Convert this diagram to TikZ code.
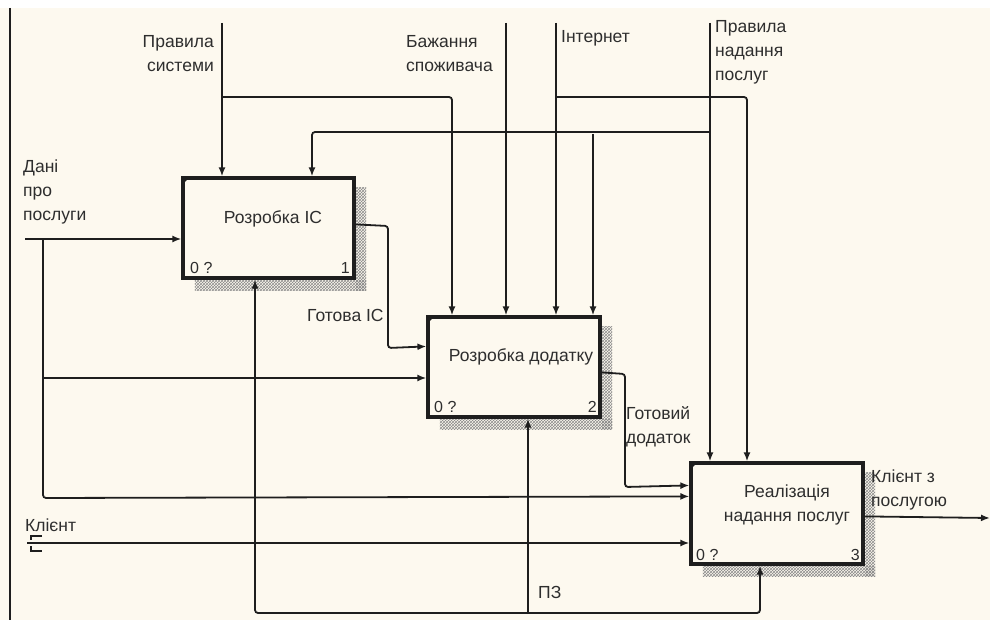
\documentclass[tikz,border=0pt]{standalone}
\usepackage{fontspec}
\setmainfont{Liberation Sans}
\usetikzlibrary{arrows.meta,patterns,calc}
\definecolor{cream}{HTML}{FDF9EF}
\definecolor{ink}{HTML}{1E1E1E}
\definecolor{txt}{HTML}{2E2E2E}
\begin{document}
\begin{tikzpicture}[x=1pt,y=-1pt,
  idefbox/.style={draw=ink, fill=cream, line width=3.2pt, rectangle, inner sep=0pt},
  conn/.style={draw=ink, line width=1.8pt, rounded corners=3pt},
  arr/.style={conn, -{Latex[length=9pt,width=7pt]}},
  lbl/.style={text=txt, font=\fontsize{17.5}{24}\selectfont, inner sep=0pt, align=left},
  num/.style={text=txt, font=\fontsize{16}{20}\selectfont, inner sep=0pt},
  hatch/.style={pattern=crosshatch, pattern color=gray!90},
  corner/.style={fill=ink},
]
\useasboundingbox (0,0) rectangle (990,620);
\fill[white] (0,0) rectangle (990,620);
\fill[cream] (0,8) rectangle (990,620);
\draw[ink, line width=1.8pt] (10,8) -- (10,620);

% boxes
\path (268.5,228) node[minimum width=171pt, minimum height=100pt, inner sep=0pt] (b1) {};
\path (514,367) node[minimum width=172pt, minimum height=100pt, inner sep=0pt] (b2) {};
\path (777,513.5) node[minimum width=172pt, minimum height=101pt, inner sep=0pt] (b3) {};
\foreach \b in {b1,b2,b3}{
  \fill[hatch] ($(\b.north east)+(2,10)$) rectangle ($(\b.south east)+(12,12)$);
  \fill[hatch] ($(\b.south west)+(12,2)$) rectangle ($(\b.south east)+(12,12)$);
}
\node[idefbox, minimum width=171pt, minimum height=100pt] (B1) at (b1) {};
\node[idefbox, minimum width=172pt, minimum height=100pt] (B2) at (b2) {};
\node[idefbox, minimum width=172pt, minimum height=101pt] (B3) at (b3) {};
\foreach \b in {B1,B2,B3}{
  \fill[corner] (\b.north west) -- ++(9,0) -- ++(-9,9) -- cycle;
}

% box texts
\node[lbl] (t1) at (273,219) {Розробка ІС};
\node[lbl] (t2) at (521,357) {Розробка додатку};
\node[lbl, align=center] (t3) at (787,505) {Реалізація\\надання послуг};
\node[num, anchor=west] (n1a) at (190,268) {0 ?};
\node[num, anchor=east] (n1b) at (350,268) {1};
\node[num, anchor=west] (n2a) at (434,407) {0 ?};
\node[num, anchor=east] (n2b) at (597,407) {2};
\node[num, anchor=west] (n3a) at (696,555) {0 ?};
\node[num, anchor=east] (n3b) at (860,555) {3};

% free ends and junctions
\coordinate (ps) at (222,23);
\coordinate (bz) at (506,23);
\coordinate (it) at (556,23);
\coordinate (pn) at (710,23);
\coordinate (d0) at (25,239);
\coordinate (kl) at (27,543);
\coordinate (pz) at (528,614);
\coordinate (out) at (990,518);
\coordinate (j1) at (222,97);
\coordinate (j2) at (556,97);
\coordinate (j3) at (710,132);
\coordinate (j4) at (593,134);
\coordinate (j5) at (43,239);
\coordinate (j6) at (43,378);
\coordinate (j7) at (528,613);

% controls
\draw[arr] (ps) -- (ps |- B1.north);
\draw[arr] (j1) -- (452,97) -- (452,0 |- B2.north);
\draw[arr] (bz) -- (bz |- B2.north);
\draw[arr] (it) -- (it |- B2.north);
\draw[arr] (j2) -- (747,97) -- (747,0 |- B3.north);
\draw[arr] (pn) -- (pn |- B3.north);
\draw[arr] (j3) -- (312,132) -- (312,0 |- B1.north);
\draw[arr] (j4) -- (j4 |- B2.north);

% inputs
\draw[arr] (d0) -- (d0 -| B1.west);
\draw[arr] (j5) -- (43,498) -- ($(B3.north west)+(0,35)$);
\draw[arr] (j6) -- (j6 -| B2.west);
\draw[arr] (kl) -- (kl -| B3.west);
\draw[ink, line width=1.4pt] (42,536) -- (31,536) -- (31,540);
\draw[ink, line width=1.4pt] (31,546) -- (31,551) -- (42,551);

% outputs
\draw[arr] ($(B1.north east)+(0,48)$) -- (388,226) -- (388,348) -- ($(B2.north west)+(0,31)$);
\draw[arr] ($(B2.north east)+(0,57)$) -- (625,374) -- (625,487) -- ($(B3.north west)+(0,24)$);
\draw[arr] ($(B3.north east)+(0,55)$) -- (out);

% mechanisms
\draw[arr] (pz) -- (pz |- B2.south);
\draw[arr] (j7) -- (255,613) -- (255,0 |- B1.south);
\draw[arr] (j7) -- (760,613) -- (760,0 |- B3.south);

% labels
\node[lbl, anchor=east, align=right] (l1) at (214,54) {Правила\\системи};
\node[lbl, anchor=west] (l2) at (406,54) {Бажання\\споживача};
\node[lbl, anchor=west] (l3) at (561,38) {Інтернет};
\node[lbl, anchor=west] (l4) at (715,52) {Правила\\надання\\послуг};
\node[lbl, anchor=west] (l5) at (23,192) {Дані\\про\\послуги};
\node[lbl, anchor=west] (l6) at (25,525) {Клієнт};
\node[lbl, anchor=west] (l7) at (307,315) {Готова ІС};
\node[lbl, anchor=west] (l8) at (626,427) {Готовий\\додаток};
\node[lbl, anchor=west] (l9) at (871,490) {Клієнт з\\послугою};
\node[lbl, anchor=west] (l10) at (538,592) {ПЗ};
\end{tikzpicture}
\end{document}
